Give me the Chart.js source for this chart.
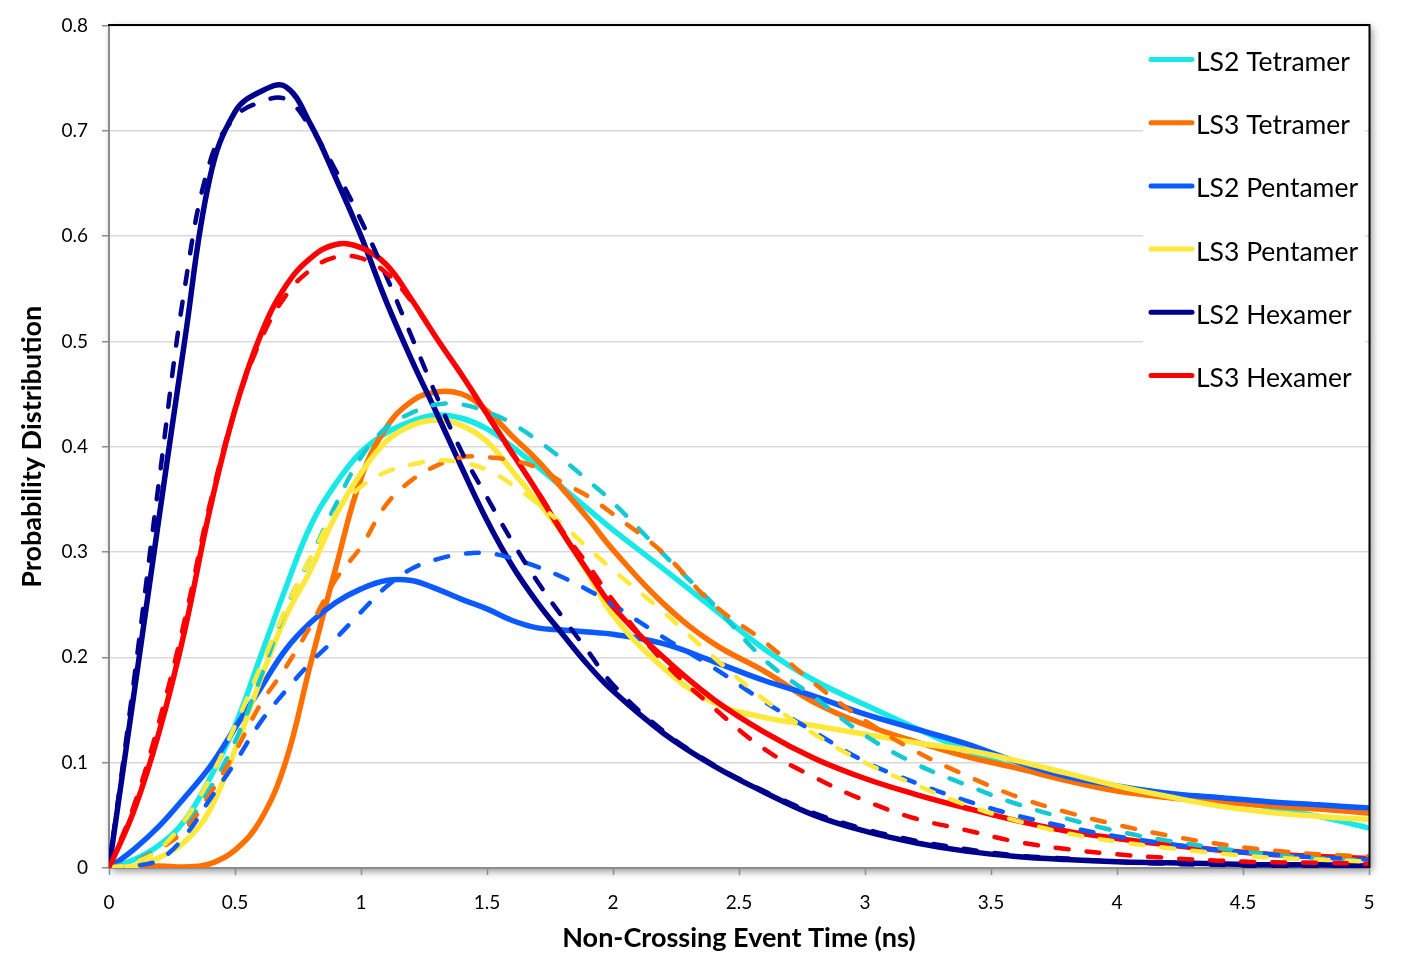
<!DOCTYPE html>
<html>
<head>
<meta charset="utf-8">
<script src="https://cdn.jsdelivr.net/npm/chart.js@4.4.1/dist/chart.umd.min.js"></script>
<style>
  html, body { margin: 0; padding: 0; background: #ffffff; }
  #wrap { width: 1407px; height: 956px; position: relative; }
</style>
</head>
<body>
<div id="wrap"><canvas id="chart" width="1407" height="956"></canvas></div>
<script>
// ---------------- data ----------------
const timeNs = [0, 0.1, 0.2, 0.3, 0.4, 0.5, 0.6, 0.7, 0.8, 0.9, 1.0, 1.1, 1.2, 1.3, 1.4, 1.5, 1.6, 1.7, 1.8, 1.9, 2.0,
                2.2, 2.4, 2.6, 2.8, 3.0, 3.2, 3.4, 3.6, 3.8, 4.0, 4.2, 4.4, 4.6, 4.8, 5.0];

const seriesNames = ['LS2 Tetramer', 'LS3 Tetramer', 'LS2 Pentamer', 'LS3 Pentamer', 'LS2 Hexamer', 'LS3 Hexamer'];

const ls2Tetramer    = [0, 0.008, 0.022, 0.045, 0.085, 0.135, 0.2, 0.265, 0.325, 0.365, 0.395, 0.413, 0.424, 0.43, 0.427, 0.417, 0.4, 0.381, 0.361, 0.341, 0.321,
                        0.284, 0.246, 0.208, 0.178, 0.155, 0.133, 0.112, 0.095, 0.085, 0.077, 0.071, 0.065, 0.058, 0.049, 0.038];
const ls2TetramerFit = [0, 0.007, 0.02, 0.04, 0.075, 0.12, 0.18, 0.245, 0.295, 0.345, 0.39, 0.418, 0.432, 0.44, 0.44, 0.433, 0.422, 0.406, 0.388, 0.368, 0.347,
                        0.298, 0.25, 0.198, 0.162, 0.126, 0.099, 0.079, 0.061, 0.047, 0.035, 0.026, 0.019, 0.013, 0.009, 0.007];
const ls3Tetramer    = [0, 0.001, 0.002, 0.001, 0.004, 0.017, 0.045, 0.1, 0.194, 0.285, 0.37, 0.418, 0.443, 0.452, 0.45, 0.434, 0.41, 0.387, 0.36, 0.332, 0.302,
                        0.251, 0.213, 0.187, 0.157, 0.136, 0.12, 0.106, 0.095, 0.083, 0.073, 0.067, 0.063, 0.059, 0.056, 0.052];
const ls3TetramerFit = [0, 0.005, 0.018, 0.036, 0.07, 0.11, 0.155, 0.19, 0.23, 0.274, 0.305, 0.345, 0.368, 0.382, 0.39, 0.39, 0.387, 0.38, 0.366, 0.353, 0.336,
                        0.299, 0.25, 0.215, 0.175, 0.14, 0.111, 0.088, 0.068, 0.053, 0.041, 0.031, 0.023, 0.017, 0.013, 0.011];
const ls2Pentamer    = [0, 0.018, 0.04, 0.067, 0.096, 0.133, 0.17, 0.207, 0.233, 0.252, 0.265, 0.273, 0.273, 0.265, 0.255, 0.246, 0.235, 0.228, 0.226, 0.224, 0.222,
                        0.213, 0.196, 0.178, 0.163, 0.146, 0.132, 0.118, 0.101, 0.087, 0.078, 0.071, 0.067, 0.063, 0.06, 0.057];
const ls2PentamerFit = [0, 0.002, 0.008, 0.03, 0.065, 0.1, 0.138, 0.168, 0.195, 0.218, 0.243, 0.267, 0.284, 0.293, 0.298, 0.299, 0.294, 0.286, 0.276, 0.264, 0.25,
                        0.219, 0.19, 0.158, 0.129, 0.101, 0.081, 0.064, 0.05, 0.039, 0.03, 0.023, 0.017, 0.013, 0.01, 0.008];
const ls3Pentamer    = [0, 0.002, 0.01, 0.025, 0.055, 0.112, 0.178, 0.238, 0.283, 0.335, 0.375, 0.405, 0.42, 0.425, 0.42, 0.405, 0.377, 0.348, 0.318, 0.28, 0.24,
                        0.19, 0.157, 0.143, 0.135, 0.127, 0.119, 0.112, 0.102, 0.09, 0.078, 0.068, 0.059, 0.053, 0.049, 0.046];
const ls3PentamerFit = [0, 0.005, 0.018, 0.045, 0.085, 0.135, 0.19, 0.245, 0.295, 0.337, 0.362, 0.376, 0.383, 0.387, 0.385, 0.378, 0.364, 0.346, 0.326, 0.304, 0.283,
                        0.243, 0.2, 0.16, 0.127, 0.1, 0.079, 0.06, 0.045, 0.033, 0.025, 0.019, 0.014, 0.01, 0.008, 0.006];
const ls2Hexamer     = [0, 0.167, 0.335, 0.5, 0.655, 0.718, 0.737, 0.742, 0.706, 0.655, 0.6, 0.538, 0.483, 0.432, 0.38, 0.33, 0.287, 0.252, 0.222, 0.193, 0.168,
                        0.128, 0.097, 0.072, 0.05, 0.035, 0.024, 0.016, 0.011, 0.008, 0.006, 0.005, 0.004, 0.003, 0.003, 0.002];
const ls2HexamerFit  = [0, 0.18, 0.37, 0.55, 0.67, 0.713, 0.727, 0.73, 0.703, 0.662, 0.615, 0.562, 0.505, 0.448, 0.395, 0.352, 0.31, 0.272, 0.238, 0.206, 0.174,
                        0.13, 0.098, 0.073, 0.052, 0.037, 0.026, 0.018, 0.012, 0.009, 0.006, 0.004, 0.003, 0.002, 0.002, 0.001];
const ls3Hexamer     = [0, 0.055, 0.13, 0.225, 0.34, 0.435, 0.505, 0.552, 0.579, 0.592, 0.589, 0.573, 0.54, 0.503, 0.468, 0.431, 0.394, 0.357, 0.318, 0.282, 0.248,
                        0.2, 0.16, 0.129, 0.104, 0.085, 0.07, 0.057, 0.045, 0.035, 0.028, 0.022, 0.017, 0.013, 0.011, 0.009];
const ls3HexamerFit  = [0, 0.06, 0.14, 0.235, 0.345, 0.435, 0.5, 0.543, 0.568, 0.58, 0.579, 0.565, 0.538, 0.503, 0.468, 0.43, 0.393, 0.358, 0.32, 0.288, 0.254,
                        0.196, 0.152, 0.113, 0.086, 0.064, 0.047, 0.036, 0.025, 0.018, 0.013, 0.0095, 0.007, 0.0055, 0.005, 0.004];

const xTickStep = 0.5;
const yTickStep = 0.1;

// ---------------- styles ----------------
const colors = {
  cyan: 'rgb(25,232,232)', cyanFit: 'rgb(20,200,212)',
  orange: 'rgb(255,112,0)', blue: 'rgb(10,90,255)',
  yellow: 'rgb(255,232,60)', navy: 'rgb(0,0,140)', red: 'rgb(255,0,0)'
};
const FONT = 'Lato, "Open Sans", "DejaVu Sans", sans-serif';

function pts(values) { return timeNs.map((t, i) => ({ x: t, y: values[i] })); }
function solid(label, values, color) {
  return { label, data: pts(values), borderColor: color, backgroundColor: color, borderWidth: 5.5, fill: false, isFit: false };
}
function dashed(label, values, color) {
  return { label: label + ' (fit)', data: pts(values), borderColor: color, backgroundColor: color, borderWidth: 4.5,
           borderDash: [13, 18], fill: false, isFit: true };
}

const drawList = [
  solid(seriesNames[0], ls2Tetramer, colors.cyan),
  solid(seriesNames[1], ls3Tetramer, colors.orange),
  solid(seriesNames[2], ls2Pentamer, colors.blue),
  solid(seriesNames[3], ls3Pentamer, colors.yellow),
  solid(seriesNames[4], ls2Hexamer, colors.navy),
  solid(seriesNames[5], ls3Hexamer, colors.red),
  dashed(seriesNames[0], ls2TetramerFit, colors.cyanFit),
  dashed(seriesNames[1], ls3TetramerFit, colors.orange),
  dashed(seriesNames[2], ls2PentamerFit, colors.blue),
  dashed(seriesNames[3], ls3PentamerFit, colors.yellow),
  dashed(seriesNames[4], ls2HexamerFit, colors.navy),
  dashed(seriesNames[5], ls3HexamerFit, colors.red)
];
// Chart.js draws lower "order" on top: first in list -> bottom.
drawList.forEach((d, i) => { d.order = drawList.length - i; });

// ---------------- plugins: frame/shadow and in-plot legend ----------------
const framePlugin = {
  id: 'frame',
  beforeDraw(chart) {
    const { ctx, chartArea: a } = chart;
    ctx.save();
    ctx.fillStyle = '#ffffff';
    ctx.fillRect(0, 0, chart.width, chart.height);
    ctx.shadowColor = 'rgba(0,0,0,0.45)';
    ctx.shadowBlur = 8;
    ctx.shadowOffsetX = 3;
    ctx.shadowOffsetY = 3;
    ctx.fillRect(a.left, a.top, a.right - a.left, a.bottom - a.top);
    ctx.restore();
  },
  afterDraw(chart) {
    const { ctx, chartArea: a } = chart;
    ctx.save();
    // in-plot legend box
    ctx.fillStyle = '#ffffff';
    ctx.fillRect(1143, 30, 222, 380);
    const solids = chart.data.datasets.filter(d => !d.isFit);
    ctx.font = '26.5px ' + FONT;
    ctx.textBaseline = 'middle';
    ctx.textAlign = 'left';
    solids.forEach((d, i) => {
      const y = 59.5 + i * 63.2;
      ctx.strokeStyle = d.borderColor;
      ctx.lineWidth = 5;
      ctx.lineCap = 'round';
      ctx.beginPath();
      ctx.moveTo(1151, y);
      ctx.lineTo(1192, y);
      ctx.stroke();
      ctx.fillStyle = '#000000';
      ctx.fillText(d.label, 1196, y + 3);
    });
    // black top and right frame lines
    ctx.strokeStyle = '#000000';
    ctx.lineWidth = 2;
    ctx.lineCap = 'butt';
    ctx.beginPath();
    ctx.moveTo(a.left - 1, a.top - 0.5);
    ctx.lineTo(a.right + 0.5, a.top - 0.5);
    ctx.lineTo(a.right + 0.5, a.bottom);
    ctx.stroke();
    ctx.restore();
  }
};

const tickFont = { family: FONT, size: 19 };
const titleFont = { family: FONT, size: 27, weight: 'bold' };

new Chart(document.getElementById('chart'), {
  type: 'line',
  data: { datasets: drawList },
  options: {
    responsive: false,
    animation: false,
    devicePixelRatio: 1,
    layout: { padding: { left: 0, right: 38, top: 25, bottom: 0 } },
    elements: {
      point: { radius: 0, hoverRadius: 0 },
      line: { tension: 0.4, borderCapStyle: 'round', borderJoinStyle: 'round' }
    },
    plugins: { legend: { display: false }, tooltip: { enabled: false } },
    scales: {
      x: {
        type: 'linear', min: 0, max: 5,
        afterFit(s) { s.height = 88; },
        ticks: { stepSize: xTickStep, font: tickFont, color: '#000', padding: 16, maxRotation: 0,
                 callback: v => String(+Number(v).toFixed(1)) },
        grid: { drawOnChartArea: false, drawTicks: true, tickLength: 7, tickColor: '#8c8c8c', tickWidth: 1.5 },
        border: { color: '#8c8c8c', width: 2 },
        title: { display: true, text: 'Non-Crossing Event Time (ns)', font: titleFont, color: '#000',
                 padding: { top: 0, bottom: 2 } }
      },
      y: {
        min: 0, max: 0.8,
        afterFit(s) { s.width = 109; },
        ticks: { stepSize: yTickStep, font: tickFont, color: '#000', padding: 14,
                 callback: v => String(+Number(v).toFixed(1)) },
        grid: { color: '#d9d9d9', lineWidth: 1.5, drawTicks: true, tickLength: 7, tickColor: '#8c8c8c', tickWidth: 1.5 },
        border: { color: '#8c8c8c', width: 2 },
        title: { display: true, text: 'Probability Distribution', font: titleFont, color: '#000',
                 padding: { top: 16, bottom: 0 } }
      }
    }
  },
  plugins: [framePlugin]
});
</script>
</body>
</html>
